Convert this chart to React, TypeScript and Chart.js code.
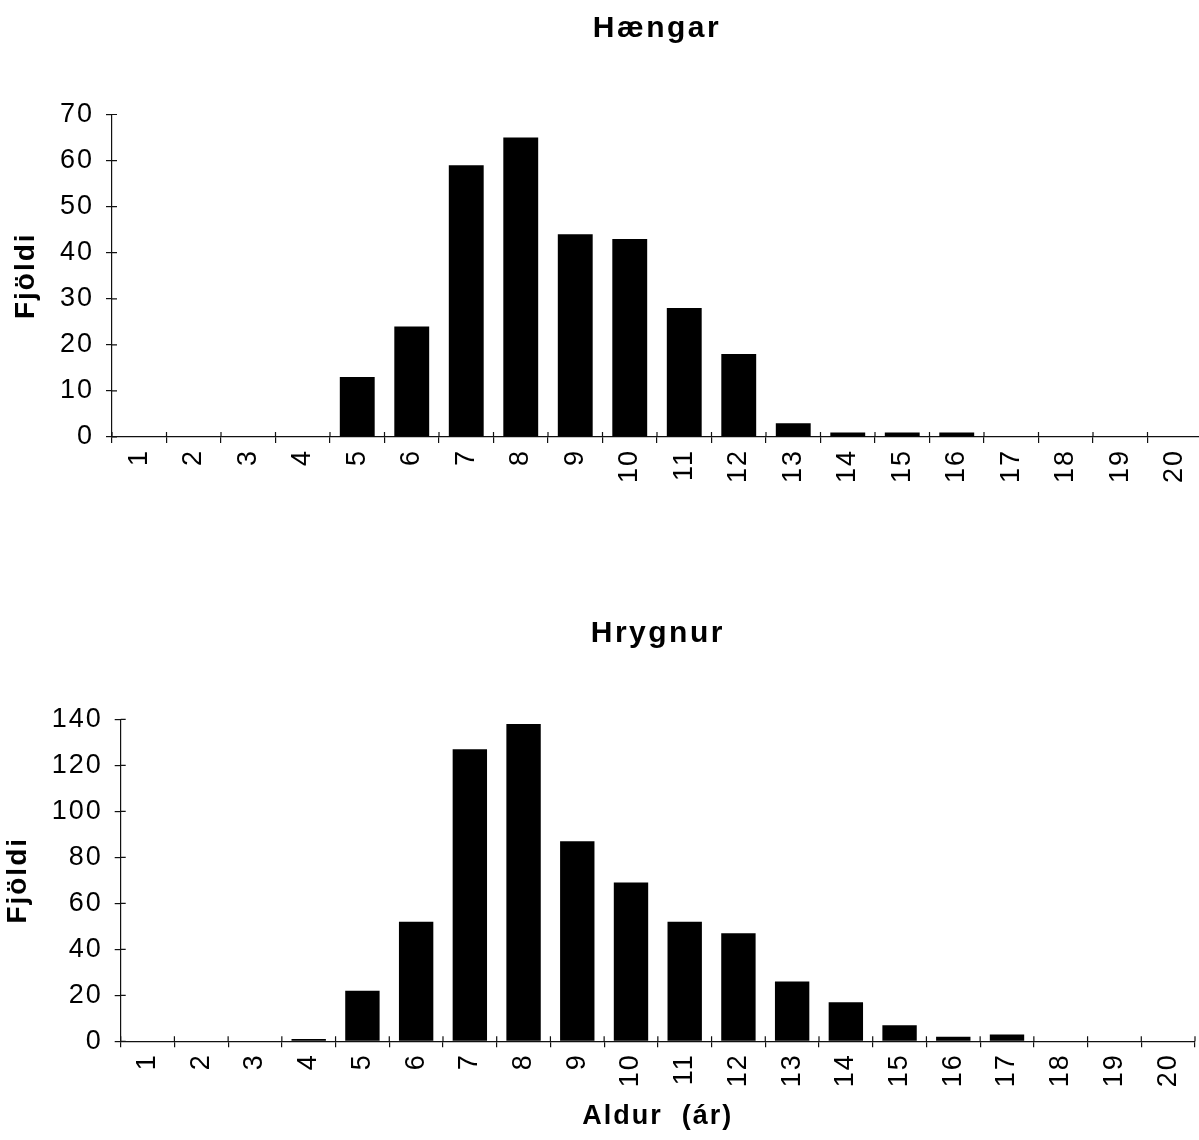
import { useEffect, useRef } from 'react';
import { Chart, registerables } from 'chart.js';
Chart.register(...registerables);

const ageLabels = ['1', '2', '3', '4', '5', '6', '7', '8', '9', '10', '11', '12', '13', '14', '15', '16', '17', '18', '19', '20'];
const haengarCounts = [0, 0, 0, 0, 13, 24, 59, 65, 44, 43, 28, 18, 3, 1, 1, 1, 0, 0, 0, 0];
const hrygnurCounts = [0, 0, 0, 1, 22, 52, 127, 138, 87, 69, 52, 47, 26, 17, 7, 2, 3, 0, 0, 0];
const haengarAxis = { max: 70, step: 10 };
const hrygnurAxis = { max: 140, step: 20 };
const haengarTitle = 'Hængar';
const hrygnurTitle = 'Hrygnur';
const yTitle = 'Fjöldi';
const xTitle = 'Aldur  (ár)';

const FONT = '"Liberation Sans", Arial, Helvetica, sans-serif';
const INK = '#111';

const spacingPlugin = {
  id: 'spacing',
  beforeUpdate(chart: any) { chart.ctx.letterSpacing = '2px'; },
  beforeDraw(chart: any) { chart.ctx.letterSpacing = '2px'; },
};

const decorPlugin = {
  id: 'decor',
  afterDraw(chart: any, _args: any, opts: any) {
    const { ctx, chartArea } = chart;
    const xs = chart.scales.x;
    const ys = chart.scales.y;
    ctx.save();
    ctx.strokeStyle = INK;
    ctx.lineWidth = 1.2;
    ctx.beginPath();
    for (let i = 0; i <= xs.ticks.length; i++) {
      const px = xs.getPixelForValue(i - 0.5);
      ctx.moveTo(px, chartArea.bottom - 5);
      ctx.lineTo(px, chartArea.bottom);
    }
    ys.ticks.forEach((_t: any, i: number) => {
      const py = ys.getPixelForTick(i);
      ctx.moveTo(chartArea.left, py);
      ctx.lineTo(chartArea.left + 5, py);
    });
    ctx.stroke();
    ctx.letterSpacing = '2.5px';
    ctx.font = `bold 30px ${FONT}`;
    ctx.fillStyle = '#000';
    ctx.textAlign = 'center';
    ctx.textBaseline = 'alphabetic';
    ctx.fillText(opts.text, (chartArea.left + chartArea.right) / 2, opts.baseline);
    ctx.restore();
  },
};

type Cfg = {
  width: number;
  height: number;
  data: number[];
  axis: { max: number; step: number };
  title: string;
  titleBaseline: number;
  padTop: number;
  padRight: number;
  yWidth: number;
  xHeight: number;
  yTitlePad: number;
  showXTitle: boolean;
};

function BarPanel(props: Cfg) {
  const ref = useRef<HTMLCanvasElement | null>(null);
  useEffect(() => {
    if (!ref.current) return;
    const chart = new Chart(ref.current, {
      type: 'bar',
      data: {
        labels: ageLabels,
        datasets: [{
          data: props.data,
          backgroundColor: '#000',
          borderWidth: 0,
          barPercentage: 0.64,
          categoryPercentage: 1.0,
        }],
      },
      options: {
        responsive: false,
        animation: false,
        layout: { padding: { top: props.padTop, right: props.padRight, left: 0, bottom: 0 } },
        plugins: {
          legend: { display: false },
          tooltip: { enabled: false },
          decor: { text: props.title, baseline: props.titleBaseline },
        } as any,
        scales: {
          x: {
            grid: { display: true, drawOnChartArea: false, drawTicks: true, tickLength: 6, color: INK, lineWidth: 1.2 },
            border: { display: true, color: INK, width: 1.2 },
            ticks: {
              color: '#000',
              font: { family: FONT, size: 27 },
              maxRotation: 90,
              minRotation: 90,
              padding: 6,
              autoSkip: false,
            },
            title: {
              display: props.showXTitle,
              text: xTitle,
              color: '#000',
              font: { family: FONT, size: 27, weight: 'bold' },
              padding: { top: 0, bottom: 7 },
            },
            afterFit: (s: any) => {
              s.height = props.xHeight;
              s.paddingLeft = 0;
              s.paddingRight = 0;
            },
          },
          y: {
            min: 0,
            max: props.axis.max,
            grid: { display: true, drawOnChartArea: false, drawTicks: true, tickLength: 6, color: INK, lineWidth: 1.2 },
            border: { display: true, color: INK, width: 1.2 },
            ticks: {
              stepSize: props.axis.step,
              color: '#000',
              font: { family: FONT, size: 27 },
              padding: 12,
            },
            title: {
              display: true,
              text: yTitle,
              color: '#000',
              font: { family: FONT, size: 28, weight: 'bold' },
              padding: { top: props.yTitlePad, bottom: 0 },
            },
            afterFit: (s: any) => {
              s.width = props.yWidth;
              s.paddingTop = 0;
              s.paddingBottom = 0;
            },
          },
        },
      },
      plugins: [spacingPlugin, decorPlugin],
    } as any);
    return () => chart.destroy();
  }, []);
  return (
    <canvas
      ref={ref}
      width={props.width}
      height={props.height}
      style={{ display: 'block', width: props.width + 'px', height: props.height + 'px' }}
    />
  );
}

export default function App() {
  return (
    <div style={{ position: 'fixed', left: 0, top: 0, width: 1199, height: 1140, overflow: 'hidden', background: '#fff' }}>
      <div style={{ position: 'absolute', left: 0, top: 0 }}>
        <BarPanel
          width={1204}
          height={570}
          data={haengarCounts}
          axis={haengarAxis}
          title={haengarTitle}
          titleBaseline={37}
          padTop={114.5}
          padRight={2}
          yWidth={112}
          xHeight={133}
          yTitlePad={9}
          showXTitle={false}
        />
      </div>
      <div style={{ position: 'absolute', left: 0, top: 570 }}>
        <BarPanel
          width={1199}
          height={570}
          data={hrygnurCounts}
          axis={hrygnurAxis}
          title={hrygnurTitle}
          titleBaseline={72}
          padTop={149.3}
          padRight={4}
          yWidth={120.7}
          xHeight={98.7}
          yTitlePad={1}
          showXTitle={true}
        />
      </div>
    </div>
  );
}
